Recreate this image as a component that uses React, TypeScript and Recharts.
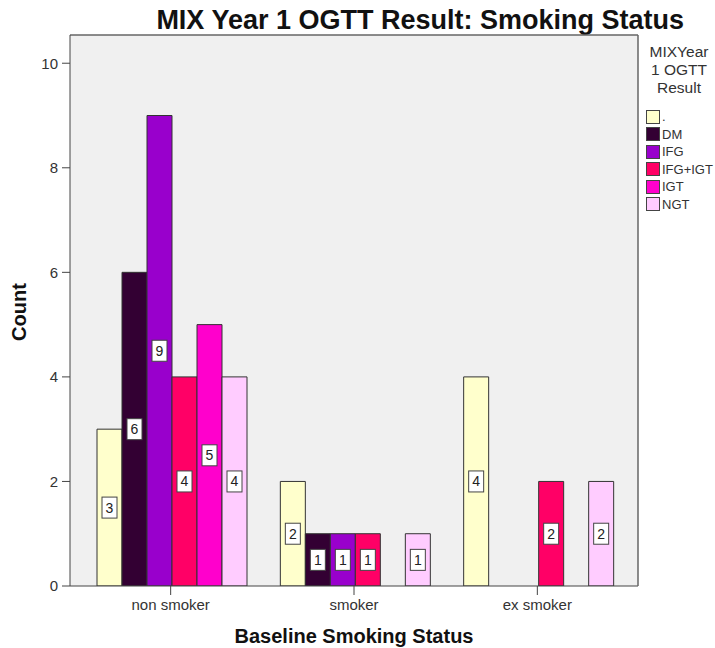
import React from "react";
import { BarChart, Bar, XAxis, YAxis, CartesianGrid, LabelList } from "recharts";

// Baseline smoking status x MIX Year 1 OGTT result — clustered counts.

const CATEGORIES = ["non smoker", "smoker", "ex smoker"];
const DOT = [3, 2, 4];
const DM = [6, 1, null];
const IFG = [9, 1, null];
const IFG_IGT = [4, 1, 2];
const IGT = [5, null, null];
const NGT = [4, 1, 2];
const Y_TICKS = [0, 2, 4, 6, 8, 10];

const SERIES = [
  { key: "dot", name: ".", values: DOT, color: "#FFFFCC" },
  { key: "dm", name: "DM", values: DM, color: "#330033" },
  { key: "ifg", name: "IFG", values: IFG, color: "#9900CC" },
  { key: "ifgigt", name: "IFG+IGT", values: IFG_IGT, color: "#FF0066" },
  { key: "igt", name: "IGT", values: IGT, color: "#FF00CC" },
  { key: "ngt", name: "NGT", values: NGT, color: "#FFCCFF" },
];

const rows = CATEGORIES.map((c, i) => {
  const r: Record<string, string | number | null> = { cat: c };
  SERIES.forEach((s) => (r[s.key] = s.values[i]));
  return r;
});

const FONT = "'Liberation Sans', Arial, sans-serif";

function BoxLabel(props: any) {
  const { x, y, width, height, value } = props;
  if (value == null) return null;
  const cx = x + width / 2;
  const cy = y + height / 2;
  return (
    <g>
      <rect x={cx - 7.5} y={cy - 10.5} width={15} height={21} fill="#fff" stroke="#444" strokeWidth={1} />
      <text x={cx} y={cy + 5} textAnchor="middle" fontSize={14} fill="#222" fontFamily={FONT}>
        {value}
      </text>
    </g>
  );
}

function LegendBox() {
  return (
    <div style={{ position: "absolute", left: 646, top: 43, fontFamily: FONT, color: "#333" }}>
      <div style={{ textAlign: "center", fontSize: 15.5, lineHeight: "18px", width: 68, marginLeft: -1 }}>
        MIXYear
        <br />1 OGTT
        <br />
        Result
      </div>
      <div style={{ marginTop: 11 }}>
        {SERIES.map((s) => (
          <div key={s.key} style={{ display: "flex", alignItems: "center", height: 17.5, fontSize: 13 }}>
            <span
              style={{
                display: "inline-block",
                width: 12,
                height: 12,
                background: s.color,
                border: "1px solid #444",
                marginRight: 2,
              }}
            />
            {s.name}
          </div>
        ))}
      </div>
    </div>
  );
}

export default function App() {
  return (
    <div style={{ position: "absolute", left: 0, top: 0, width: 715, height: 648, background: "#fff" }}>
      <BarChart
        width={715}
        height={648}
        data={rows}
        margin={{ top: 34, right: 76, bottom: 0, left: 0 }}
        barCategoryGap={18}
        barGap={0}
      >
        <CartesianGrid fill="#F0F0F0" horizontal={false} vertical={false} />
        <XAxis
          dataKey="cat"
          height={62}
          padding={{ left: 9, right: 9 }}
          axisLine={{ stroke: "#444" }}
          tickLine={{ stroke: "#444" }}
          tickSize={9}
          tickMargin={4}
          tick={{ fontSize: 15, fill: "#333", fontFamily: FONT }}
        />
        <XAxis
          xAxisId="top"
          dataKey="cat"
          orientation="top"
          height={1}
          tick={false}
          tickLine={false}
          axisLine={{ stroke: "#666", strokeWidth: 1.5 }}
        />
        <YAxis
          width={70}
          domain={[0, 10.54]}
          ticks={Y_TICKS}
          allowDataOverflow
          axisLine={{ stroke: "#444" }}
          tickLine={{ stroke: "#444" }}
          tickSize={8}
          tickMargin={4}
          tick={{ fontSize: 15, fill: "#333", fontFamily: FONT }}
        />
        <YAxis
          yAxisId="right"
          orientation="right"
          width={1}
          tick={false}
          tickLine={false}
          axisLine={{ stroke: "#666", strokeWidth: 1.5 }}
        />
        {SERIES.map((s) => (
          <Bar key={s.key} dataKey={s.key} name={s.name} fill={s.color} stroke="#333" strokeWidth={1} isAnimationActive={false}>
            <LabelList dataKey={s.key} content={BoxLabel} />
          </Bar>
        ))}
        <text x={684} y={29} textAnchor="end" fontSize={27} fontWeight="bold" fill="#111" fontFamily={FONT}>
          MIX Year 1 OGTT Result: Smoking Status
        </text>
        <text x={354} y={643} textAnchor="middle" fontSize={20} fontWeight="bold" fill="#111" fontFamily={FONT}>
          Baseline Smoking Status
        </text>
        <text
          x={26}
          y={312}
          textAnchor="middle"
          fontSize={20}
          fontWeight="bold"
          fill="#111"
          fontFamily={FONT}
          transform="rotate(-90 26 312)"
        >
          Count
        </text>
      </BarChart>
      <LegendBox />
    </div>
  );
}
